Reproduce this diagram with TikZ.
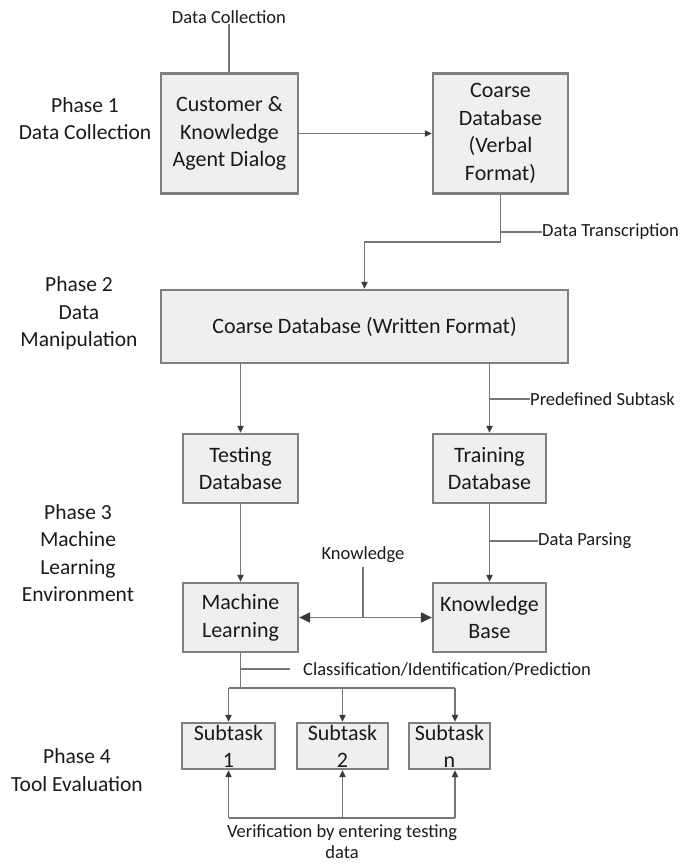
\documentclass[tikz,border=0pt]{standalone}
\usepackage{fontspec}
\setmainfont{Carlito}
\usetikzlibrary{arrows.meta}
\definecolor{boxfill}{HTML}{EFEFEF}
\definecolor{boxline}{HTML}{808080}
\definecolor{wire}{HTML}{767676}
\definecolor{tipcol}{HTML}{3A3A3A}
\definecolor{ink}{HTML}{1A1A1A}
\tikzset{
  stagebox/.style={draw=boxline, line width=2.2pt, fill=boxfill, text=ink,
    align=center, inner sep=0pt, font=\fontsize{22}{27.5}\selectfont},
  subbox/.style={draw=boxline, line width=2.2pt, fill=boxfill, inner sep=0pt},
  subtext/.style={text=ink, align=center, inner sep=0pt,
    font=\fontsize{22}{27}\selectfont},
  phase/.style={text=ink, align=center, inner sep=0pt,
    font=\fontsize{21.5}{27.5}\selectfont},
  tag/.style={text=ink, inner sep=0pt, font=\fontsize{18.5}{21}\selectfont},
  wireline/.style={draw=wire, line width=1.9pt},
  flow/.style={wireline, -{Triangle[length=7pt,width=6pt,color=tipcol]}},
  bigtip/.style={wireline,
    {Triangle[length=11pt,width=10pt,color=tipcol]}-{Triangle[length=11pt,width=10pt,color=tipcol]}}
}
\begin{document}
\begin{tikzpicture}[x=1pt,y=-1pt]
\useasboundingbox (0,0) rectangle (684,865);

% phase captions
\node[phase] (p1) at (85,118.5) {Phase 1\\Data Collection};
\node[phase] (p2) at (79,313.5) {Phase 2\\Data\\Manipulation};
\node[phase] (p3) at (78,553) {Phase 3\\Machine\\Learning\\Environment};
\node[phase] (p4) at (77,770) {Phase 4\\Tool Evaluation};

% main stages
\node[stagebox, minimum width=137pt, minimum height=120pt] (dialog) at (229.5,133.5)
  {Customer \&\\Knowledge\\Agent Dialog};
\node[stagebox, minimum width=135pt, minimum height=120pt] (verbal) at (500.5,133.5)
  {Coarse\\Database\\(Verbal\\Format)};
\node[stagebox, minimum width=407pt, minimum height=73pt] (written) at (364.5,326.5)
  {Coarse Database (Written Format)};
\node[stagebox, minimum width=115pt, minimum height=69pt] (testing) at (240.5,468.5)
  {Testing\\Database};
\node[stagebox, minimum width=113pt, minimum height=69pt] (training) at (489.5,468.5)
  {Training\\Database};
\node[stagebox, minimum width=115pt, minimum height=69pt] (ml) at (240.5,617.5)
  {Machine\\Learning};
\node[stagebox, minimum width=113pt, minimum height=69pt] (kb) at (489.5,617.5)
  {Knowledge\\Base};

% subtasks (text taller than the boxes)
\node[subbox, minimum width=93pt, minimum height=46pt] (s1) at (228.5,746) {};
\node[subbox, minimum width=91pt, minimum height=46pt] (s2) at (342.5,746) {};
\node[subbox, minimum width=81pt, minimum height=46pt] (sn) at (449.5,746) {};
\node[subtext] (s1t) at (s1.center) {Subtask\\1};
\node[subtext] (s2t) at (s2.center) {Subtask\\2};
\node[subtext] (snt) at (sn.center) {Subtask\\n};

% annotations
\node[tag] (tcollect) at (229,17) {Data Collection};
\node[tag, anchor=west] (ttrans) at (542,232) {Data Transcription};
\node[tag, anchor=west] (tpre) at (530,399) {Predefined Subtask};
\node[tag, anchor=west] (tparse) at (538,541) {Data Parsing};
\node[tag] (tknow) at (363,555) {Knowledge};
\node[tag, anchor=west] (tclass) at (303,669) {Classification/Identification/Prediction};
\node[tag, align=center, font=\fontsize{18.5}{21}\selectfont] (tverif) at (342,842)
  {Verification by entering testing\\data};

% helper coordinates for elbows and ticks
\coordinate (elbow) at (0,242);
\coordinate (busTop) at (0,688);
\coordinate (busBot) at (0,818);
\coordinate (nDrop) at (455,688);
\coordinate (nRise) at (455,818);

% phase 1 -> phase 2
\draw[wireline] (tcollect.south) -- (tcollect.south |- dialog.north);
\draw[flow] (dialog) -- (verbal);
\draw[flow] (verbal.south) -- (verbal.south |- elbow) -| (written.north);
\draw[wireline] (verbal.south |- ttrans.west) -- (ttrans.west);

% phase 2 -> phase 3
\draw[flow] (testing.north |- written.south) -- (testing.north);
\draw[flow] (training.north |- written.south) -- (training.north);
\draw[wireline] (training.north |- tpre.west) -- (tpre.west);
\draw[flow] (testing) -- (ml);
\draw[flow] (training) -- (kb);
\draw[wireline] (training.south |- tparse.west) -- (tparse.west);
\draw[bigtip] (ml) -- (kb);
\draw[wireline] (tknow.south) ++(0,4) -- (tknow.south |- ml.east);

% phase 3 -> phase 4
\draw[wireline] (ml.south) -- (ml.south |- busTop);
\draw[wireline] (ml.south |- tclass.west) -- ++(49,0);
\draw[wireline] (s1.north |- busTop) -- (nDrop);
\draw[flow] (s1.north |- busTop) -- (s1.north);
\draw[flow] (s2.north |- busTop) -- (s2.north);
\draw[flow] (nDrop) -- (nDrop |- sn.north);

% verification feedback
\draw[wireline] (s1.south |- busBot) -- (nRise);
\draw[flow] (s1.south |- busBot) -- (s1.south);
\draw[flow] (s2.south |- busBot) -- (s2.south);
\draw[flow] (nRise) -- (nRise |- sn.south);
\end{tikzpicture}
\end{document}
